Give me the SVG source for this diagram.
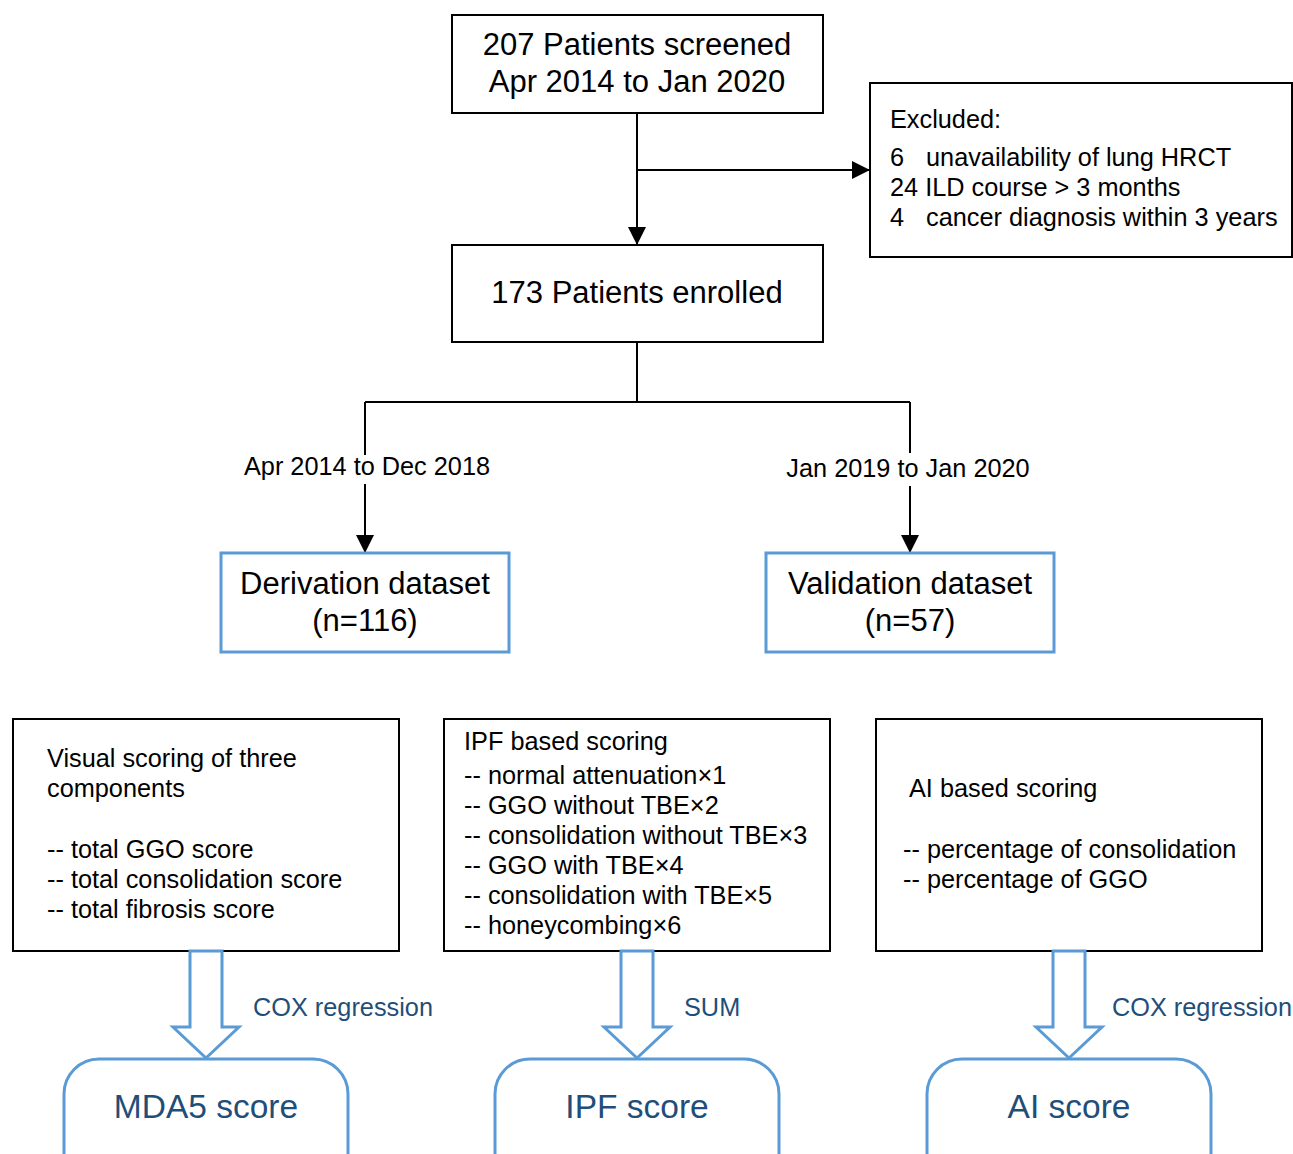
<svg xmlns="http://www.w3.org/2000/svg" width="1293" height="1154" viewBox="0 0 1293 1154">
<defs>
<marker id="ah" markerUnits="userSpaceOnUse" markerWidth="18" markerHeight="18" refX="18" refY="9" orient="auto">
<path d="M0,0 L18,9 L0,18 z" fill="#000"/>
</marker>
<style>
.box{fill:#fff;stroke:#000;stroke-width:2}
.bbox{fill:#fff;stroke:#5B9BD5;stroke-width:3}
.conn{fill:none;stroke:#000;stroke-width:2}
.blk{fill:#fff;stroke:#5B9BD5;stroke-width:3;stroke-linejoin:miter}
text{font-family:"Liberation Sans",Arial,sans-serif;fill:#000}
.t30{font-size:31px;text-anchor:middle}
.t25{font-size:25.3px}
.lab{font-size:25.3px;text-anchor:middle}
.dk{fill:#1F4E79}
.score{font-size:33.5px;text-anchor:middle;fill:#1F4E79}
</style>
</defs>
<rect width="1293" height="1154" fill="#fff"/>

<g id="connectors">
<path class="conn" d="M637,113 V245" marker-end="url(#ah)"/>
<path class="conn" d="M637,170 H870" marker-end="url(#ah)"/>
<path class="conn" d="M637,342 V402 M365,402 H910"/>
<path class="conn" d="M365,402 V455"/>
<path class="conn" d="M365,484 V553" marker-end="url(#ah)"/>
<path class="conn" d="M910,402 V453"/>
<path class="conn" d="M910,486 V553" marker-end="url(#ah)"/>
<text class="lab" x="367" y="475">Apr 2014 to Dec 2018</text>
<text class="lab" x="908" y="477">Jan 2019 to Jan 2020</text>
</g>

<g id="screened">
<rect class="box" x="452" y="15" width="371" height="98"/>
<text class="t30" x="637" y="55">207 Patients screened</text>
<text class="t30" x="637" y="92">Apr 2014 to Jan 2020</text>
</g>

<g id="excluded">
<rect class="box" x="870" y="83" width="422" height="174"/>
<text class="t25" x="890" y="128">Excluded:</text>
<text class="t25" x="890" y="166">6</text>
<text class="t25" x="926" y="166">unavailability of lung HRCT</text>
<text class="t25" x="890" y="196">24 ILD course &gt; 3 months</text>
<text class="t25" x="890" y="226">4</text>
<text class="t25" x="926" y="226">cancer diagnosis within 3 years</text>
</g>

<g id="enrolled">
<rect class="box" x="452" y="245" width="371" height="97"/>
<text class="t30" x="637" y="303">173 Patients enrolled</text>
</g>

<g id="derivation">
<rect class="bbox" x="221" y="553" width="288" height="99"/>
<text class="t30" x="365" y="594">Derivation dataset</text>
<text class="t30" x="365" y="631">(n=116)</text>
</g>

<g id="validation">
<rect class="bbox" x="766" y="553" width="288" height="99"/>
<text class="t30" x="910" y="594">Validation dataset</text>
<text class="t30" x="910" y="631">(n=57)</text>
</g>

<g id="visual">
<rect class="box" x="13" y="719" width="386" height="232"/>
<text class="t25" x="47" y="767">Visual scoring of three</text>
<text class="t25" x="47" y="797">components</text>
<text class="t25" x="47" y="858">-- total GGO score</text>
<text class="t25" x="47" y="888">-- total consolidation score</text>
<text class="t25" x="47" y="918">-- total fibrosis score</text>
</g>

<g id="ipf">
<rect class="box" x="444" y="719" width="386" height="232"/>
<text class="t25" x="464" y="750">IPF based scoring</text>
<text class="t25" x="464" y="784">-- normal attenuation×1</text>
<text class="t25" x="464" y="814">-- GGO without TBE×2</text>
<text class="t25" x="464" y="844">-- consolidation without TBE×3</text>
<text class="t25" x="464" y="874">-- GGO with TBE×4</text>
<text class="t25" x="464" y="904">-- consolidation with TBE×5</text>
<text class="t25" x="464" y="934">-- honeycombing×6</text>
</g>

<g id="ai">
<rect class="box" x="876" y="719" width="386" height="232"/>
<text class="t25" x="909" y="797">AI based scoring</text>
<text class="t25" x="903" y="858">-- percentage of consolidation</text>
<text class="t25" x="903" y="888">-- percentage of GGO</text>
</g>

<g id="arrow1">
<path class="blk" d="M190,951 V1027 H173 L206,1058 L239,1027 H222 V951 Z"/>
<text class="t25 dk" x="253" y="1016">COX regression</text>
</g>
<g id="arrow2">
<path class="blk" d="M621,951 V1027 H604 L637,1058 L670,1027 H653 V951 Z"/>
<text class="t25 dk" x="684" y="1016">SUM</text>
</g>
<g id="arrow3">
<path class="blk" d="M1053,951 V1027 H1036 L1069,1058 L1102,1027 H1085 V951 Z"/>
<text class="t25 dk" x="1112" y="1016">COX regression</text>
</g>

<g id="mda5">
<rect class="bbox" x="64" y="1059" width="284" height="130" rx="35"/>
<text class="score" x="206" y="1118">MDA5 score</text>
</g>
<g id="ipfscore">
<rect class="bbox" x="495" y="1059" width="284" height="130" rx="35"/>
<text class="score" x="637" y="1118">IPF score</text>
</g>
<g id="aiscore">
<rect class="bbox" x="927" y="1059" width="284" height="130" rx="35"/>
<text class="score" x="1069" y="1118">AI score</text>
</g>
</svg>
